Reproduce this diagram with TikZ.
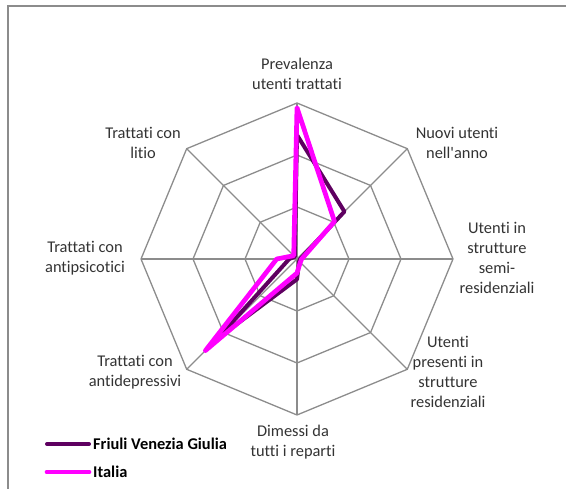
\documentclass[tikz,border=0pt]{standalone}
\usepackage{fontspec}
\setmainfont{Carlito}[Ligatures={CommonOff,TeXOff}]
\definecolor{fvgcol}{HTML}{5E0060}
\definecolor{itacol}{HTML}{FF00FF}
\definecolor{gridcol}{HTML}{8C8C8C}

\begin{document}
\begin{tikzpicture}[x=1pt,y=1pt,
  lbl/.style={align=center,font=\fontsize{16.4}{20}\selectfont,text=black!80},
  leg/.style={anchor=west,font=\fontsize{16.4}{20}\selectfont\bfseries,inner sep=1pt},
  gridline/.style={gridcol,line width=1.3},
  fvgline/.style={fvgcol,line width=4,line join=round,line cap=round},
  italine/.style={itacol,line width=4.7,line join=round,line cap=round}]

  \useasboundingbox (0,0) rectangle (566,489);

  \def\r{156} \def\ring{52}

  % Frame
  \draw[gridcol,line width=1.7] (8,-5) -- (8,483) -- (575,483);

  \begin{scope}[shift={(297,230)}]
    % Grid
    \foreach \k in {1,2,3}
      \draw[gridline] (90:\k*\ring) \foreach \a in {45,0,-45,-90,-135,180,135} { -- (\a:\k*\ring) } -- cycle;
    \foreach \a in {90,45,...,-225}
      \draw[gridline] (0,0) -- (\a:\r);

    % Series
    \draw[fvgline] (90:0.795*\r) -- (45:0.43*\r) -- (0:0.02*\r) -- (-45:0.02*\r) -- (-90:0.13*\r)
      -- (-135:0.72*\r) -- (180:0.05*\r) -- (135:0.02*\r) -- cycle;
    \draw[italine] (90:0.97*\r) -- (45:0.34*\r) -- (0:0.03*\r) -- (-45:0.03*\r) -- (-90:0.09*\r)
      -- (-135:0.83*\r) -- (180:0.13*\r) -- (135:0.03*\r) -- cycle;
  \end{scope}

  % Labels
  \node[lbl] (prev) at (297,415) {Prevalenza\\utenti trattati};
  \node[lbl] (nuovi) at (457,346) {Nuovi utenti\\nell'anno};
  \node[lbl] (semi) at (497,231) {Utenti in\\strutture\\semi-\\residenziali};
  \node[lbl] (resid) at (448,117) {Utenti\\presenti in\\strutture\\residenziali};
  \node[lbl] (dimessi) at (293,47) {Dimessi da\\tutti i reparti};
  \node[lbl] (antidep) at (135,117) {Trattati con\\antidepressivi};
  \node[lbl] (antipsic) at (85,231) {Trattati con\\antipsicotici};
  \node[lbl] (litio) at (143,346) {Trattati con\\litio};

  % Legend
  \coordinate (fvgstart) at (47,45);
  \coordinate (itastart) at (47,17);
  \node[leg] (fvgtext) at (92,45) {Friuli Venezia Giulia};
  \node[leg] (itatext) at (92,17) {Italia};
  \draw[fvgline,shorten >=3] (fvgstart) -- (fvgtext.west);
  \draw[italine,shorten >=3] (itastart) -- (itatext.west);

\end{tikzpicture}
\end{document}
